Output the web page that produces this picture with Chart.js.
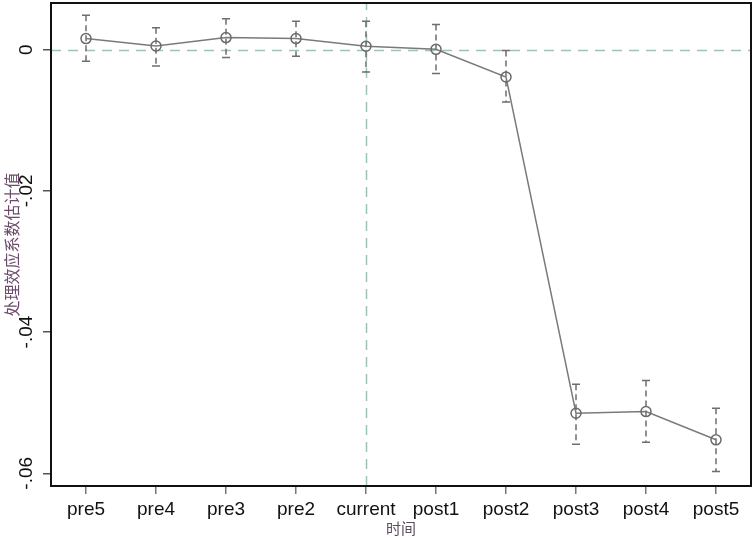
<!DOCTYPE html>
<html>
<head>
<meta charset="utf-8">
<script src="https://cdn.jsdelivr.net/npm/chart.js@4"></script>
<style>
  html, body { margin: 0; padding: 0; background: #fff; }
  #wrap { width: 754px; height: 538px; position: relative; }
</style>
</head>
<body>
<div id="wrap"><canvas id="eventChart"></canvas></div>
<script>
// event-study estimates
const periods = ["pre5", "pre4", "pre3", "pre2", "current", "post1", "post2", "post3", "post4", "post5"];
const coef   = [0.00156, 0.00051, 0.00170, 0.00156, 0.00047, 0.00004, -0.00388, -0.05149, -0.05126, -0.05526];
const ciLow  = [-0.00165, -0.00232, -0.00113, -0.00095, -0.00317, -0.00339, -0.00741, -0.05587, -0.05559, -0.05975];
const ciHigh = [0.00485, 0.00311, 0.00438, 0.00400, 0.00400, 0.00354, -0.00014, -0.04738, -0.04687, -0.05078];

const yTickValues = [0, -0.02, -0.04, -0.06];
const yTickLabels = ["0", "-.02", "-.04", "-.06"];
const eventPeriod = "current";

const latin = "'Liberation Sans', Arial, sans-serif";
const cjk = "'Noto Sans CJK SC', sans-serif";

/* ---- dashed reference lines (y = 0, x = current) ---- */
const refLinesPlugin = {
  id: "refLines",
  beforeDatasetsDraw(chart) {
    const { ctx, chartArea, scales } = chart;
    const y0 = Math.round(scales.y.getPixelForValue(0)) + 0.5;
    const xc = Math.round(scales.x.getPixelForValue(periods.indexOf(eventPeriod))) + 0.5;
    ctx.save();
    ctx.strokeStyle = "#9cc4b3";
    ctx.lineWidth = 1.5;
    ctx.setLineDash([10, 7]);
    ctx.beginPath();
    ctx.moveTo(chartArea.left, y0);
    ctx.lineTo(chartArea.right, y0);
    ctx.moveTo(xc, chartArea.bottom);
    ctx.lineTo(xc, chartArea.top);
    ctx.stroke();
    ctx.restore();
  }
};

/* ---- confidence intervals ---- */
const errorBarsPlugin = {
  id: "errorBars",
  beforeDatasetsDraw(chart) {
    const { ctx, scales } = chart;
    ctx.save();
    ctx.strokeStyle = "#6e6e6e";
    ctx.lineWidth = 1.5;
    periods.forEach((p, i) => {
      const x = scales.x.getPixelForValue(i);
      const yl = scales.y.getPixelForValue(ciLow[i]);
      const yh = scales.y.getPixelForValue(ciHigh[i]);
      ctx.setLineDash([6, 4]);
      ctx.beginPath();
      ctx.moveTo(x, yh);
      ctx.lineTo(x, yl);
      ctx.stroke();
      ctx.setLineDash([]);
      ctx.beginPath();
      ctx.moveTo(x - 4, yh);
      ctx.lineTo(x + 4, yh);
      ctx.moveTo(x - 4, yl);
      ctx.lineTo(x + 4, yl);
      ctx.stroke();
    });
    ctx.restore();
  }
};

/* ---- plot frame ---- */
const framePlugin = {
  id: "frame",
  afterDraw(chart) {
    const { ctx, chartArea } = chart;
    ctx.save();
    ctx.strokeStyle = "#111";
    ctx.lineWidth = 2;
    ctx.strokeRect(chartArea.left, chartArea.top, chartArea.right - chartArea.left, chartArea.bottom - chartArea.top);
    ctx.restore();
  }
};

new Chart(document.getElementById("eventChart"), {
  type: "line",
  data: {
    labels: periods,
    datasets: [{
      label: "coef",
      data: coef,
      borderColor: "#7a7a7a",
      borderWidth: 1.5,
      pointRadius: 5,
      pointBorderWidth: 1.5,
      pointBorderColor: "#6a6a6a",
      pointBackgroundColor: "rgba(0,0,0,0)",
      tension: 0
    }]
  },
  options: {
    responsive: true,
    maintainAspectRatio: false,
    animation: false,
    layout: { autoPadding: false, padding: { top: 3, right: 3, left: 0, bottom: 0 } },
    plugins: { legend: { display: false }, tooltip: { enabled: false } },
    scales: {
      x: {
        offset: true,
        grid: { drawOnChartArea: false, drawTicks: true, tickLength: 8, color: "#777", lineWidth: 1.5 },
        border: { display: false },
        ticks: { font: { family: latin, size: 19 }, color: "#111", padding: 4, maxRotation: 0, autoSkip: false },
        title: { display: true, text: "时间", font: { family: cjk, size: 15 }, color: "#5d4c5d", padding: { top: 0, bottom: 1 } },
        afterFit(scale) { scale.height = 52; scale.paddingLeft = 0; scale.paddingRight = 0; }
      },
      y: {
        min: -0.0618,
        max: 0.0066,
        afterBuildTicks(scale) { scale.ticks = yTickValues.map(v => ({ value: v })); },
        grid: { drawOnChartArea: false, drawTicks: true, tickLength: 8, color: "#555", lineWidth: 1.5 },
        border: { display: false },
        ticks: {
          font: { family: latin, size: 19 },
          color: "#111",
          minRotation: 90,
          maxRotation: 90,
          crossAlign: "center",
          padding: 0,
          callback: (v, i) => yTickLabels[i]
        },
        title: { display: true, text: "处理效应系数估计值", font: { family: cjk, size: 16 }, color: "#6b4a6b", padding: { top: 2, bottom: 0 } },
        afterFit(scale) { scale.width = 51; scale.paddingTop = 0; scale.paddingBottom = 0; }
      }
    }
  },
  plugins: [refLinesPlugin, errorBarsPlugin, framePlugin]
});
</script>
</body>
</html>
